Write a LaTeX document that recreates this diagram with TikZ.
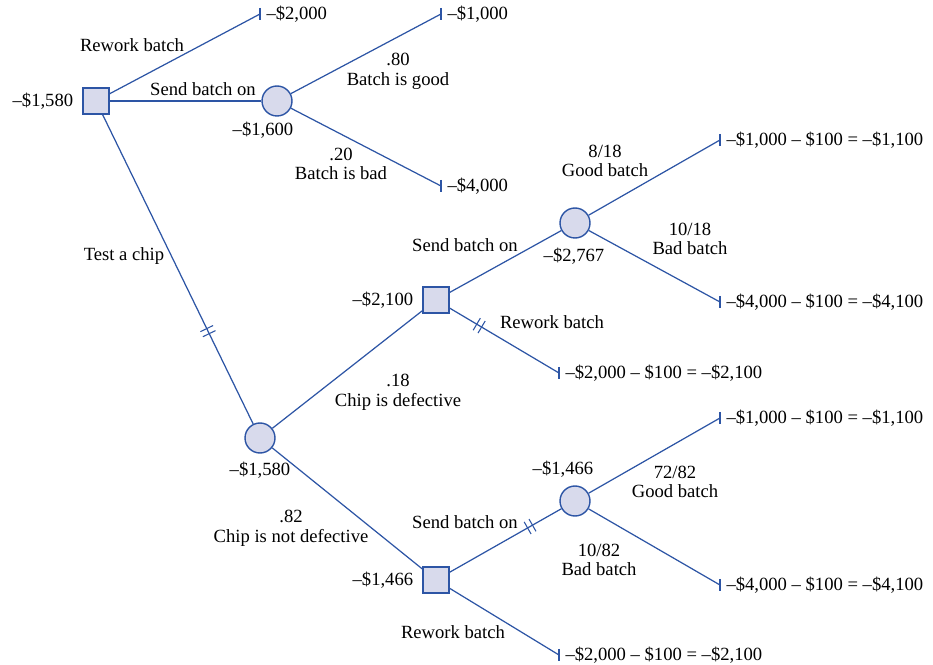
\documentclass[tikz,border=0pt]{standalone}
\usepackage{fontspec}
\setmainfont{Liberation Serif}
\usetikzlibrary{positioning, arrows.meta, decorations.markings}
\definecolor{treeblue}{RGB}{45,85,165}
\definecolor{nodefill}{RGB}{216,218,236}
\newcommand{\treefont}{\fontsize{10.6}{11.2}\selectfont}
\tikzset{
  decision/.style={rectangle, draw=treeblue, fill=nodefill,
    minimum size=0.52cm, inner sep=0pt, line width=0.8pt},
  chance/.style={circle, draw=treeblue, fill=nodefill,
    minimum size=0.6cm, inner sep=0pt, line width=0.8pt},
  payoff/.style={anchor=west, inner xsep=3.5pt, font=\treefont},
  txt/.style={align=center, inner sep=1pt, font=\treefont},
  branch/.style={draw=treeblue, line width=0.7pt},
  cutoff/.style={postaction={decorate}, decoration={markings,
    mark=at position #1 with {\draw[treeblue, line width=0.6pt]
      (-1.6pt,-4pt) -- (-1.6pt,4pt) (1.6pt,-4pt) -- (1.6pt,4pt);}}}
}
\begin{document}
\begin{tikzpicture}[x=0.02cm, y=-0.02cm]
  \useasboundingbox (0,0) rectangle (933,665);

  % First decision
  \node[decision] (D1) at (96,101) {};
  \node[txt, left=4pt of D1] (vD1) {–\$1,580};
  \node[payoff] (t1) at (260,14) {–\$2,000};
  \node[chance] (C1) at (277,101) {};
  \node[txt] (vC1) at (263,130) {–\$1,600};
  \node[chance] (C2) at (260,438) {};
  \node[txt] (vC2) at (260,470) {–\$1,580};
  \draw[branch] (D1) -- (t1.west);
  \draw[branch] (D1) -- (C1);
  \draw[branch, cutoff=0.70] (D1) -- (C2);
  \node[txt] (lRw1) at (132,45) {Rework batch};
  \node[txt] (lSd1) at (203,89) {Send batch on};
  \node[txt] (lTst) at (124,256) {Test a chip};

  % Send batch on without test
  \node[payoff] (t2) at (441,14) {–\$1,000};
  \node[payoff] (t3) at (441,186) {–\$4,000};
  \draw[branch] (C1) -- (t2.west);
  \draw[branch] (C1) -- (t3.west);
  \node[txt] (lGd1) at (398,71) {.80\\Batch is good};
  \node[txt] (lBd1) at (341,164) {.20\\Batch is bad};

  % Chip is defective
  \node[decision] (D2) at (436,300) {};
  \node[txt, left=4pt of D2] (vD2) {–\$2,100};
  \node[chance] (C3) at (575,223) {};
  \node[txt] (vC3) at (574,256) {–\$2,767};
  \node[payoff] (t4) at (720,140) {–\$1,000 – \$100 = –\$1,100};
  \node[payoff] (t5) at (720,302) {–\$4,000 – \$100 = –\$4,100};
  \node[payoff] (t6) at (559,373) {–\$2,000 – \$100 = –\$2,100};
  \draw[branch] (C2) -- (D2);
  \draw[branch] (D2) -- (C3);
  \draw[branch, cutoff=0.27] (D2) -- (t6.west);
  \draw[branch] (C3) -- (t4.west);
  \draw[branch] (C3) -- (t5.west);
  \node[txt] (lDef) at (398,392) {.18\\Chip is defective};
  \node[txt] (lSd2) at (465,245) {Send batch on};
  \node[txt] (lRw2) at (552,322) {Rework batch};
  \node[txt] (lGd2) at (605,161) {8/18\\Good batch};
  \node[txt] (lBd2) at (690,239) {10/18\\Bad batch};

  % Chip is not defective
  \node[decision] (D3) at (436,580) {};
  \node[txt, left=4pt of D3] (vD3) {–\$1,466};
  \node[chance] (C4) at (575,501) {};
  \node[txt] (vC4) at (563,469) {–\$1,466};
  \node[payoff] (t7) at (720,418) {–\$1,000 – \$100 = –\$1,100};
  \node[payoff] (t8) at (720,585) {–\$4,000 – \$100 = –\$4,100};
  \node[payoff] (t9) at (559,655) {–\$2,000 – \$100 = –\$2,100};
  \draw[branch] (C2) -- (D3);
  \draw[branch, cutoff=0.72] (D3) -- (C4);
  \draw[branch] (D3) -- (t9.west);
  \draw[branch] (C4) -- (t7.west);
  \draw[branch] (C4) -- (t8.west);
  \node[txt] (lNdf) at (291,528) {.82\\Chip is not defective};
  \node[txt] (lSd3) at (465,522) {Send batch on};
  \node[txt] (lRw3) at (453,632) {Rework batch};
  \node[txt] (lGd3) at (675,482) {72/82\\Good batch};
  \node[txt] (lBd3) at (599,560) {10/82\\Bad batch};

  % end ticks
  \foreach \t in {t1,t2,t3,t4,t5,t6,t7,t8,t9}
    \draw[branch] ([yshift=3.5pt]\t.west) -- ([yshift=-3.5pt]\t.west);
\end{tikzpicture}
\end{document}
